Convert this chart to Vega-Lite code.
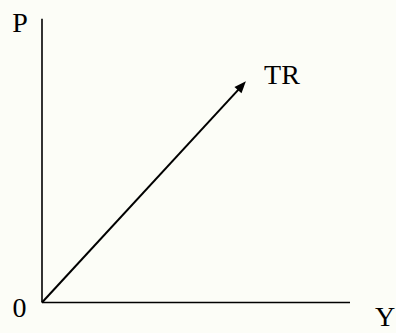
{
  "$schema": "https://vega.github.io/schema/vega-lite/v6.json",
  "width": 396,
  "height": 333,
  "padding": 0,
  "autosize": {"type": "fit", "contains": "padding"},
  "background": "#fcfdf7",
  "config": {"view": {"stroke": null}},
  "datasets": {
    "segments": [
      {"part": "axisP", "x": 0, "y": 0},
      {"part": "axisP", "x": 0, "y": 9.38},
      {"part": "axisY", "x": 0, "y": 0},
      {"part": "axisY", "x": 10, "y": 0},
      {"part": "TR", "x": 0, "y": 0},
      {"part": "TR", "x": 6.49, "y": 7.16}
    ],
    "tip": [{"x": 6.62, "y": 7.31}],
    "labels": [
      {"label": "P", "x": -0.71, "y": 8.93},
      {"label": "TR", "x": 7.79, "y": 7.21},
      {"label": "0", "x": -0.73, "y": -0.47},
      {"label": "Y", "x": 11.14, "y": -0.78}
    ]
  },
  "encoding": {
    "x": {"field": "x", "type": "quantitative", "axis": null, "scale": {"domain": [-1.3636, 11.4935], "nice": false, "zero": false}},
    "y": {"field": "y", "type": "quantitative", "axis": null, "scale": {"domain": [-0.8117, 10], "nice": false, "zero": false}}
  },
  "layer": [
    {
      "data": {"name": "segments"},
      "transform": [{"filter": "datum.part !== 'TR'"}],
      "mark": {"type": "line", "color": "#000000", "strokeWidth": 1.6, "strokeCap": "butt"},
      "encoding": {"detail": {"field": "part"}}
    },
    {
      "data": {"name": "segments"},
      "transform": [{"filter": "datum.part === 'TR'"}],
      "mark": {"type": "line", "color": "#000000", "strokeWidth": 2, "strokeCap": "butt"},
      "encoding": {}
    },
    {
      "data": {"name": "tip"},
      "mark": {"type": "point", "shape": "M0,0L-0.4,1L0.4,1Z", "size": 560, "angle": 42, "filled": true, "color": "#000000", "opacity": 1, "strokeWidth": 0}
    },
    {
      "data": {"name": "labels"},
      "mark": {"type": "text", "font": "Liberation Serif", "fontSize": 28, "align": "center", "baseline": "alphabetic", "color": "#000000"},
      "encoding": {"text": {"field": "label"}}
    }
  ]
}
